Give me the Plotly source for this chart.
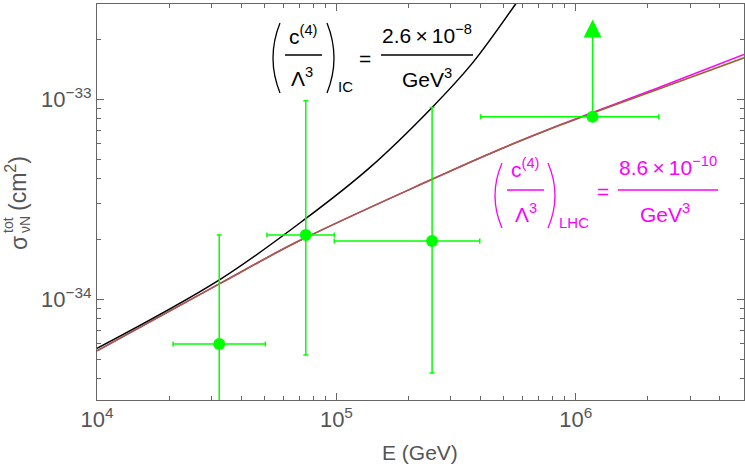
import numpy as np
import plotly.graph_objects as go

# ---------------- data ----------------
# SM-like cross section curve (brown)
E_sm = [1e4, 3.27e4, 6.86e4, 2.52e5, 4.39e5, 8.61e5, 2.25e6, 5.04e6]
sigma_sm = [5.53e-35, 1.202e-34, 1.94e-34, 3.995e-34, 5.37e-34, 7.44e-34, 1.135e-33, 1.614e-33]
# LHC-bound curve (magenta)
E_lhc = [1e4, 3.27e4, 6.86e4, 2.52e5, 4.39e5, 8.61e5, 2.25e6, 5.04e6]
sigma_lhc = [5.53e-35, 1.202e-34, 1.94e-34, 3.995e-34, 5.37e-34, 7.46e-34, 1.152e-33, 1.679e-33]
# IceCube-bound curve (black)
E_ic = [1e4, 3.27e4, 7.46e4, 1.370e5, 2.51e5, 3.727e5, 5.64e5, 6.45e5]
sigma_ic = [5.69e-35, 1.259e-34, 2.54e-34, 4.534e-34, 9.12e-34, 1.536e-33, 3.03e-33, 3.815e-33]

# IceCube measured points (green)
E_data = [3.24e4, 7.45e4, 2.51e5]
sigma_data = [5.98e-35, 2.10e-34, 1.96e-34]
E_low = [2.08e4, 5.13e4, 9.8e4]
E_high = [5.05e4, 9.8e4, 3.97e5]
sigma_low = [2.0e-35, 5.27e-35, 4.28e-35]
sigma_high = [2.10e-34, 9.84e-34, 9.12e-34]

# lower-limit point with upward arrow
E_limit = [1.175e6]
sigma_limit = [8.18e-34]
E_limit_low = [4.0e5]
E_limit_high = [2.22e6]
sigma_arrow_to = 2.51e-33

x_tickvals = [1e4, 1e5, 1e6]
x_ticktext = ["10<sup>4</sup>", "10<sup>5</sup>", "10<sup>6</sup>"]
y_tickvals = [1e-34, 1e-33]
y_ticktext = ["10<sup>\u221234</sup>", "10<sup>\u221233</sup>"]

# ---------------- figure ----------------
W, H = 745, 467
L, R, T, B = 97, 1, 4, 67
GREEN = "#00ff00"
MAG = "#ff00ff"
GRAY = "#555555"
FONT = "Liberation Sans, Arial, sans-serif"

fig = go.Figure()

fig.add_trace(go.Scatter(x=E_lhc, y=sigma_lhc, mode="lines", line=dict(color=MAG, width=1.6, shape="spline"),
                         showlegend=False, hoverinfo="skip"))
fig.add_trace(go.Scatter(x=E_sm, y=sigma_sm, mode="lines", line=dict(color="#996633", width=1.6, shape="spline"),
                         showlegend=False, hoverinfo="skip"))
fig.add_trace(go.Scatter(x=E_ic, y=sigma_ic, mode="lines", line=dict(color="black", width=1.5, shape="spline"),
                         showlegend=False, hoverinfo="skip"))

ex_plus = [h - v for h, v in zip(E_high, E_data)]
ex_minus = [v - l for l, v in zip(E_low, E_data)]
ey_plus = [h - v for h, v in zip(sigma_high, sigma_data)]
ey_minus = [v - l for l, v in zip(sigma_low, sigma_data)]

fig.add_trace(go.Scatter(
    x=E_data, y=sigma_data, mode="markers",
    marker=dict(color=GREEN, size=12),
    error_x=dict(type="data", symmetric=False, array=ex_plus, arrayminus=ex_minus,
                 color=GREEN, thickness=1.5, width=2.5),
    error_y=dict(type="data", symmetric=False, array=ey_plus, arrayminus=ey_minus,
                 color=GREEN, thickness=1.5, width=2.5),
    showlegend=False, hoverinfo="skip"))

fig.add_trace(go.Scatter(
    x=E_limit, y=sigma_limit, mode="markers",
    marker=dict(color=GREEN, size=12),
    error_x=dict(type="data", symmetric=False,
                 array=[h - v for h, v in zip(E_limit_high, E_limit)],
                 arrayminus=[v - l for l, v in zip(E_limit_low, E_limit)],
                 color=GREEN, thickness=1.5, width=2.5),
    showlegend=False, hoverinfo="skip"))

annotations = []
# upward arrow of the lower limit
annotations.append(dict(
    x=np.log10(E_limit[0]), y=np.log10(sigma_arrow_to), xref="x", yref="y",
    ax=np.log10(E_limit[0]), ay=np.log10(sigma_limit[0]), axref="x", ayref="y",
    text="", showarrow=True, arrowhead=2, arrowsize=2.4, arrowwidth=1.5,
    arrowcolor=GREEN, standoff=0, startstandoff=0))

pw, ph = W - L - R, H - T - B


def P(px, py):
    return (px - L) / pw, (H - B - py) / ph


def txt(s, px, py, size, color, angle=0, xanchor="center"):
    x, y = P(px, py)
    annotations.append(dict(text=s, x=x, y=y, xref="paper", yref="paper", showarrow=False,
                            xanchor=xanchor, yanchor="middle", textangle=angle,
                            font=dict(family=FONT, size=size, color=color)))


shapes = []


def hline(x0, x1, py, color, w=1.5):
    a, b = P(x0, py)
    c, _ = P(x1, py)
    shapes.append(dict(type="line", xref="paper", yref="paper", x0=a, x1=c, y0=b, y1=b,
                       line=dict(color=color, width=w)))


def paren(xe, xm, y0, y1, color):
    # quadratic curve from (xe,y0) to (xe,y1) with control point giving mid x = xm
    xc = 2 * xm - xe
    a = P(xe, y0)
    c = P(xc, (y0 + y1) / 2)
    b = P(xe, y1)
    path = f"M {a[0]},{a[1]} Q {c[0]},{c[1]} {b[0]},{b[1]}"
    shapes.append(dict(type="path", xref="paper", yref="paper", path=path,
                       line=dict(color=color, width=1.3)))


# --- IC label (black)
paren(280, 273, 23, 93, "black")
paren(327, 334, 23, 93, "black")
txt("c<sup>(4)</sup>", 303, 35, 21, "black")
hline(285, 322, 55, "black")
txt("\u039b<sup>3</sup>", 302, 77, 21, "black")
txt("IC", 345, 87, 15, "black")
txt("=", 365, 59, 21, "black")
txt("2.6\u2009\u00d7\u200910<sup>\u22128</sup>", 427, 34, 21, "black")
hline(381, 473, 55, "black")
txt("GeV<sup>3</sup>", 427, 78, 21, "black")

# --- LHC label (magenta)
paren(502, 495, 163, 228, MAG)
paren(548, 555, 163, 228, MAG)
txt("c<sup>(4)</sup>", 525, 168, 21, MAG)
hline(507, 544, 190, MAG)
txt("\u039b<sup>3</sup>", 526, 213, 21, MAG)
txt("LHC", 574, 223, 15, MAG)
txt("=", 603, 192, 21, MAG)
txt("8.6\u2009\u00d7\u200910<sup>\u221210</sup>", 668, 166, 21, MAG)
hline(618, 718, 190, MAG)
txt("GeV<sup>3</sup>", 665, 213, 21, MAG)

# --- axis titles
txt("E (GeV)", 420, 452, 21, GRAY)
txt("\u03c3", 19, 243, 23, GRAY, angle=-90)
txt("tot", 8, 225, 14, GRAY, angle=-90)
txt("\u03bdN", 25, 225, 14, GRAY, angle=-90)
txt("(cm<sup>2</sup>)", 16, 184, 23, GRAY, angle=-90)

x_minor = [m * 10 ** k for k in (4, 5) for m in range(2, 10)] + [m * 1e6 for m in range(2, 6)]
y_minor = [m * 10 ** k for k in (-35, -34, -33) for m in range(2, 10)]

axis_common = dict(showgrid=False, zeroline=False, showline=True, linecolor="#666666", linewidth=1,
                   mirror="ticks", ticks="inside", ticklen=7, tickcolor="#666666", tickwidth=1,
                   tickfont=dict(family=FONT, size=22, color=GRAY))

fig.update_xaxes(type="log", range=[4, np.log10(5.04e6)], tickvals=x_tickvals, ticktext=x_ticktext,
                 minor=dict(tickvals=x_minor, ticks="inside", ticklen=4, tickcolor="#666666", showgrid=False),
                 **axis_common)
fig.update_yaxes(type="log", range=[-34.503, -32.523], tickvals=y_tickvals, ticktext=y_ticktext,
                 minor=dict(tickvals=y_minor, ticks="inside", ticklen=4, tickcolor="#666666", showgrid=False),
                 **axis_common)

fig.update_layout(width=W, height=H, margin=dict(l=L, r=R, t=T, b=B),
                  paper_bgcolor="white", plot_bgcolor="white",
                  annotations=annotations, shapes=shapes, showlegend=False)

fig.write_html("out.html")
